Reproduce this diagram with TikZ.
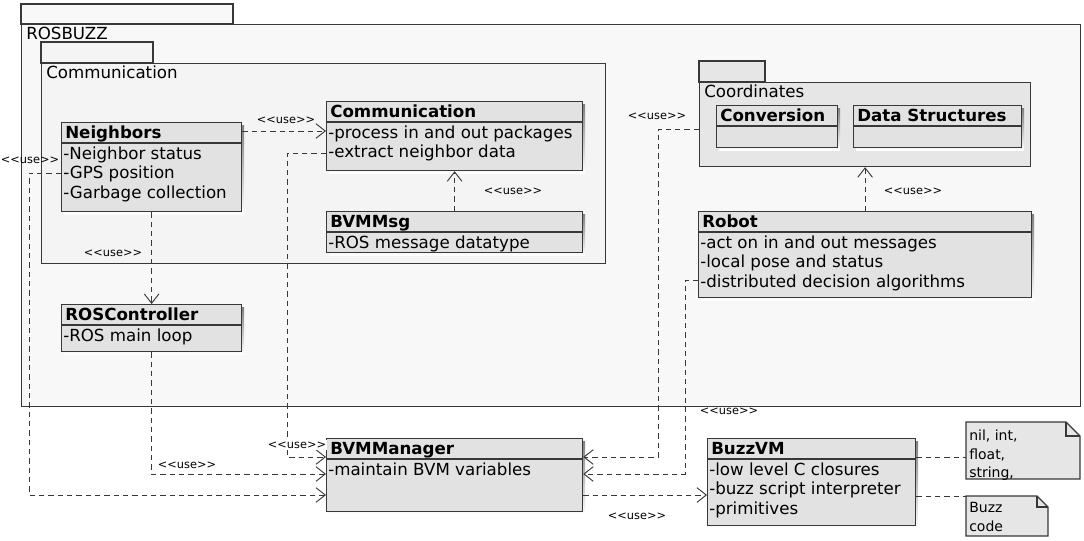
\documentclass[tikz,border=0pt]{standalone}
\usepackage{fontspec}
\setmainfont{DejaVu Sans}
\usetikzlibrary{arrows.meta,calc}
\definecolor{pkgA}{HTML}{F8F8F8}
\definecolor{pkgB}{HTML}{F4F4F4}
\definecolor{pkgC}{HTML}{E6E6E6}
\definecolor{clsfill}{HTML}{E2E2E2}
\definecolor{edge}{HTML}{383838}
\definecolor{shade}{HTML}{C4C4C4}
\tikzset{
  pkg/.style={draw=edge, line width=0.9pt},
  clsbox/.style={draw=edge, fill=clsfill, line width=0.9pt, inner sep=0pt, anchor=north west},
  use/.style={draw=edge, line width=0.7pt, dash pattern=on 4pt off 3pt},
  usearrow/.style={use, -{Straight Barb[length=7pt,width=11pt]}},
  lbl/.style={font=\fontsize{8.5}{9}\selectfont, inner sep=0pt},
  ttl/.style={font=\bfseries\fontsize{12.5}{14}\selectfont, anchor=base west, inner sep=0pt},
  row/.style={font=\fontsize{12.5}{14}\selectfont, anchor=base west, inner sep=0pt},
  pkgtxt/.style={font=\fontsize{12.5}{14}\selectfont, anchor=base west, inner sep=0pt},
  notetxt/.style={font=\fontsize{10.5}{13}\selectfont, anchor=base west, inner sep=0pt},
  notebox/.style={draw=edge, fill=pkgC, line width=0.9pt},
}
\newcommand{\umlclass}[7]{%
  \fill[shade] (#2+3,#3+3) rectangle (#2+#4+3,#3+#5+3);
  \node[clsbox, minimum width=#4*0.75pt, minimum height=#5*0.75pt] (#1) at (#2,#3) {};
  \draw[edge, line width=0.9pt] ($(#1.north west)+(0,21)$) -- ($(#1.north east)+(0,21)$);
  \node[ttl] at ($(#1.north west)+(4,16)$) {#6};
  \foreach \r [count=\i] in {#7} {\node[row] at ($(#1.north west)+(2,{21+16+(\i-1)*19.7})$) {\r};}
}
\begin{document}
\begin{tikzpicture}[x=0.75pt,y=-0.75pt]
\useasboundingbox (0,0) rectangle (1084,540);
% ROSBUZZ package
\draw[pkg, fill=pkgA] (21,4) rectangle (233,24);
\node[pkg, fill=pkgA, anchor=north west, inner sep=0pt, minimum width=1059*0.75pt, minimum height=382*0.75pt] (ros) at (21,24) {};
\node[pkgtxt] at (26,39) {ROSBUZZ};
% Communication package
\draw[pkg, fill=pkgB] (41,42) rectangle (153,63);
\node[pkg, fill=pkgB, anchor=north west, inner sep=0pt, minimum width=564*0.75pt, minimum height=200*0.75pt] (cpkg) at (41,63) {};
\node[pkgtxt] at (46,78) {Communication};
% Coordinates package
\draw[pkg, fill=pkgC] (699,61) rectangle (765,82);
\node[pkg, fill=pkgC, anchor=north west, inner sep=0pt, minimum width=331*0.75pt, minimum height=84*0.75pt] (coord) at (699,82) {};
\node[pkgtxt] at (704,97) {Coordinates};
% classes
\umlclass{nb}{61}{122}{180}{89}{Neighbors}{-Neighbor status,-GPS position,-Garbage collection}
\umlclass{comm}{326}{101}{256}{69}{Communication}{-process in and out packages,-extract neighbor data}
\umlclass{msg}{326}{211}{256}{41}{BVMMsg}{-ROS message datatype}
\umlclass{ctrl}{61}{304}{180}{47}{ROSController}{-ROS main loop}
\umlclass{conv}{716}{105}{121}{42}{Conversion}{}
\umlclass{ds}{853}{105}{168}{42}{Data Structures}{}
\umlclass{robot}{698}{211}{333}{86}{Robot}{-act on in and out messages,-local pose and status,-distributed decision algorithms}
\umlclass{mgr}{326}{438}{256}{73}{BVMManager}{-maintain BVM variables}
\umlclass{vm}{707}{438}{208}{87}{BuzzVM}{-low level C closures,-buzz script interpreter,-primitives}
% notes
\node[inner sep=0pt, anchor=north west, minimum width=114*0.75pt, minimum height=57*0.75pt] (n1) at (966,422) {};
\draw[notebox] (966,422) -- (1066,422) -- (1080,436) -- (1080,479) -- (966,479) -- cycle;
\draw[edge, line width=0.9pt] (1066,422) -- (1066,436) -- (1080,436);
\node[notetxt] at (969,440) {nil, int,};
\node[notetxt] at (969,459) {float,};
\node[notetxt] at (969,477) {string,};
\node[inner sep=0pt, anchor=north west, minimum width=82*0.75pt, minimum height=40*0.75pt] (n2) at (966,496) {};
\draw[notebox] (966,496) -- (1037,496) -- (1048,507) -- (1048,536) -- (966,536) -- cycle;
\draw[edge, line width=0.9pt] (1037,496) -- (1037,507) -- (1048,507);
\node[notetxt] at (969,512) {Buzz};
\node[notetxt] at (969,531) {code};
% connectors
\draw[usearrow] ($(nb.north east)+(0,9)$) -- ($(comm.north west)+(0,30)$);
\node[lbl] at (286,120) {<{}<use>{}>};
\draw[usearrow] (nb.south) -- (ctrl.north);
\node[lbl] at (113,253) {<{}<use>{}>};
\draw[usearrow] (msg.north) -- (comm.south);
\node[lbl] at (513,191) {<{}<use>{}>};
\draw[usearrow] ($(nb.north west)+(0,51)$) -- (29,173) -- (29,495) -- ($(mgr.north west)+(0,57)$);
\node[lbl] at (30,160) {<{}<use>{}>};
\draw[usearrow] ($(comm.north west)+(0,52)$) -- (287,153) -- (287,457) -- ($(mgr.north west)+(0,19)$);
\node[lbl, fill=white, inner sep=1pt] at (297,445) {<{}<use>{}>};
\draw[usearrow] (ctrl.south) |- ($(mgr.north west)+(0,36)$);
\node[lbl] at (187,465) {<{}<use>{}>};
\draw[usearrow] ($(coord.north west)+(0,47)$) -- (658,129) -- (658,457) -- ($(mgr.north east)+(0,19)$);
\node[lbl] at (657,116) {<{}<use>{}>};
\draw[usearrow] ($(robot.north west)+(0,69)$) -- (685,280) -- (685,474) -- ($(mgr.north east)+(0,36)$);
\node[lbl] at (729,411) {<{}<use>{}>};
\draw[usearrow] (robot.north) -- (coord.south);
\node[lbl] at (913,191) {<{}<use>{}>};
\draw[usearrow] ($(mgr.north east)+(0,57)$) -- ($(vm.north west)+(0,57)$);
\node[lbl] at (637,516) {<{}<use>{}>};
\draw[use] ($(vm.north east)+(0,19)$) -- ($(n1.north west)+(0,35)$);
\draw[use] ($(vm.north east)+(0,58)$) -- (n2.north west);
\end{tikzpicture}
\end{document}
